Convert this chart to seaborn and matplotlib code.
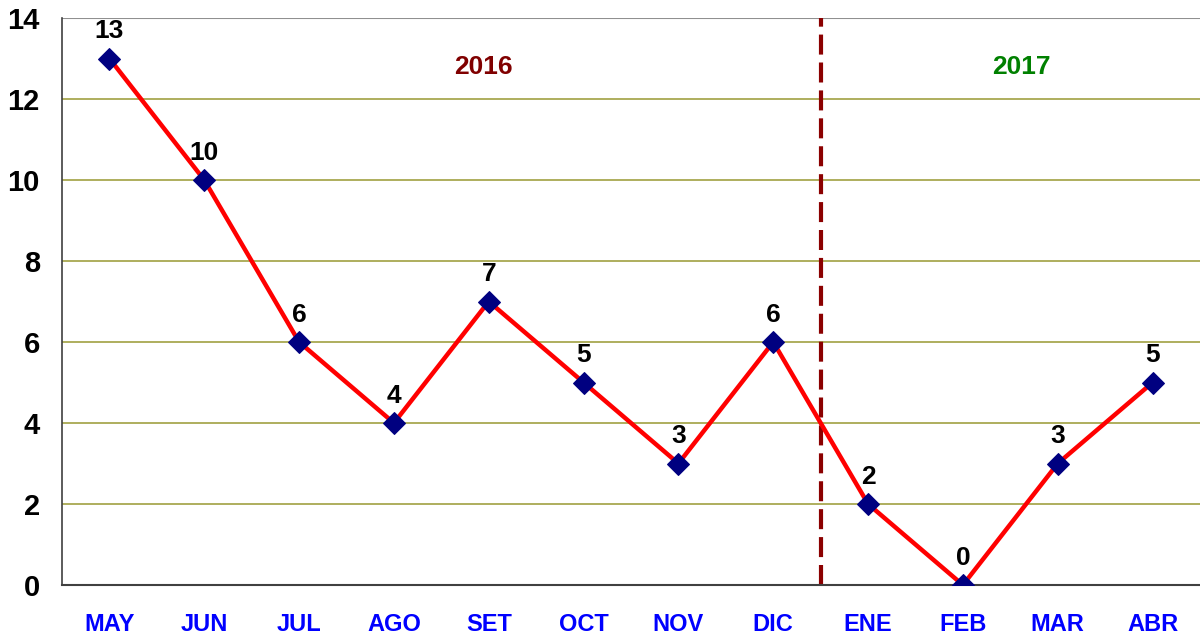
import pandas as pd
import seaborn as sns
import matplotlib.pyplot as plt

# casos por mes
meses = ["MAY", "JUN", "JUL", "AGO", "SET", "OCT", "NOV", "DIC", "ENE", "FEB", "MAR", "ABR"]
casos = [13, 10, 6, 4, 7, 5, 3, 6, 2, 0, 3, 5]
anios = ["2016", "2017"]

df = pd.DataFrame({"pos": range(len(meses)), "Mes": meses, "Casos": casos})

sns.set_style("white")
plt.rcParams["font.family"] = ["Liberation Sans", "DejaVu Sans"]

fig = plt.figure(figsize=(12, 6.34), dpi=100)
ax = fig.add_axes([62 / 1200, 1 - 585 / 634, 1 - 62 / 1200, (585 - 18) / 634])

for v in range(2, 13, 2):
    ax.axhline(v, color="#A8A850", lw=1.3, zorder=0)
ax.axhline(14, color="#909090", lw=1.5, zorder=0)

sns.lineplot(data=df, x="pos", y="Casos", ax=ax, color="#FF0000", lw=3.2,
             marker="D", markersize=11, markerfacecolor="#000080",
             markeredgecolor="#000080", zorder=3)

for x, y in zip(df["pos"], df["Casos"]):
    ax.annotate(str(y), (x, y), xytext=(0, 11), textcoords="offset points",
                ha="center", va="bottom", fontsize=19, fontweight="bold", color="black")

ax.axvline(7.5, color="#8B0000", lw=3, ls=(0, (4.8, 1.9)), zorder=2)
ax.text(3.94, 12.8, anios[0], ha="center", va="center", fontsize=19,
        fontweight="bold", color="#800000")
ax.text(9.62, 12.8, anios[1], ha="center", va="center", fontsize=19,
        fontweight="bold", color="#008000")

ax.set_xlim(-0.5, len(meses) - 0.5)
ax.set_ylim(0, 14)
ax.set_yticks(range(0, 15, 2))
ax.set_yticklabels([str(v) for v in range(0, 15, 2)], fontsize=21, fontweight="bold", color="black")
ax.set_xticks([i + 0.5 for i in range(-1, len(meses))])
ax.set_xticklabels([])
ax.set_xticks(range(len(meses)), minor=True)
ax.set_xticklabels(meses, minor=True, fontsize=17, fontweight="bold", color="#0000FF")
ax.tick_params(axis="x", which="major", direction="out", length=8, width=1.2, color="#404040")
ax.tick_params(axis="x", which="minor", length=0, pad=20)
ax.tick_params(axis="y", direction="out", length=8, width=1.2, color="#404040", pad=8)
ax.set_xlabel("")
ax.set_ylabel("")

for s in ["top", "right"]:
    ax.spines[s].set_visible(False)
ax.spines["left"].set_color("#404040")
ax.spines["bottom"].set_color("#404040")
ax.spines["left"].set_linewidth(1.2)
ax.spines["bottom"].set_linewidth(1.5)

fig.savefig("out.png", dpi=100)
